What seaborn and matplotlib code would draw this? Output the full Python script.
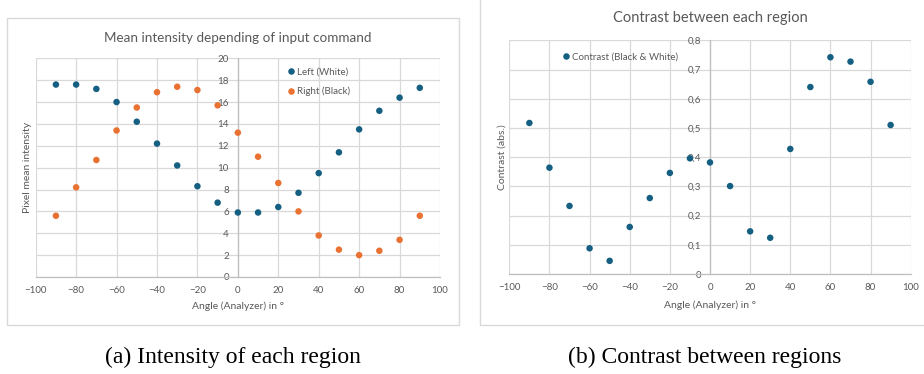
import numpy as np
import pandas as pd
import matplotlib
matplotlib.use("Agg")
import matplotlib.pyplot as plt
import seaborn as sns
from matplotlib.patches import Rectangle
from matplotlib.lines import Line2D
from matplotlib.ticker import FuncFormatter

angles = [-90, -80, -70, -60, -50, -40, -30, -20, -10, 0, 10, 20, 30, 40, 50, 60, 70, 80, 90]
left_white = [17.6, 17.6, 17.2, 16.0, 14.2, 12.2, 10.2, 8.3, 6.8, 5.9, 5.9, 6.4, 7.7, 9.5, 11.4, 13.5, 15.2, 16.4, 17.3]
right_black = [5.6, 8.2, 10.7, 13.4, 15.5, 16.9, 17.4, 17.1, 15.7, 13.2, 11.0, 8.6, 6.0, 3.8, 2.5, 2.0, 2.4, 3.4, 5.6]
contrast = [0.517, 0.364, 0.233, 0.088, 0.045, 0.161, 0.260, 0.346, 0.396, 0.382, 0.301, 0.146, 0.124, 0.428, 0.640, 0.742, 0.727, 0.658, 0.510]

title_a = "Mean intensity depending of input command"
title_b = "Contrast between each region"
caption_a = "(a) Intensity of each region"
caption_b = "(b) Contrast between regions"
xlabel = "Angle (Analyzer) in °"
ylabel_a = "Pixel mean intensity"
ylabel_b = "Contrast (abs.)"
label_white = "Left (White)"
label_black = "Right (Black)"
label_contrast = "Contrast (Black & White)"

BLUE = "#156082"
ORANGE = "#E97132"
TXT = "#595959"
GRID = "#D9D9D9"
AXL = "#BFBFBF"

sns.set_theme(style="white")
plt.rcParams["font.family"] = ["Lato", "DejaVu Sans"]

W, H = 924, 374
fig = plt.figure(figsize=(W / 100, H / 100), dpi=100)


def px_axes(x0, y0, x1, y1):
    return fig.add_axes([x0 / W, 1 - y1 / H, (x1 - x0) / W, (y1 - y0) / H])


def px_rect(x0, y0, x1, y1):
    r = Rectangle((x0 / W, 1 - y1 / H), (x1 - x0) / W, (y1 - y0) / H,
                  transform=fig.transFigure, fill=False, edgecolor=GRID, lw=1.0)
    fig.patches.append(r)


px_rect(7, 18, 459, 325)
px_rect(479.5, -2, 926, 325)


def style(ax, ymax, ystep, fmt):
    ax.set_xlim(-100, 100)
    ax.set_ylim(0, ymax)
    ax.set_xticks(np.arange(-100, 101, 20))
    ax.set_yticks(np.arange(0, ymax + ystep / 2, ystep))
    ax.yaxis.set_major_formatter(FuncFormatter(fmt))
    ax.grid(True, color=GRID, lw=0.9)
    ax.set_axisbelow(True)
    for s in ["top", "right"]:
        ax.spines[s].set_visible(False)
    ax.spines["left"].set_position(("data", 0))
    ax.spines["left"].set_color(AXL)
    ax.spines["bottom"].set_color(AXL)
    ax.spines["left"].set_linewidth(0.9)
    ax.spines["bottom"].set_linewidth(0.9)
    ax.tick_params(axis="both", length=0, labelsize=7, colors=TXT, pad=6.5)
    ax.set_facecolor("none")


# Left chart
ax1 = px_axes(35.7, 58.3, 440, 277)
df1 = pd.DataFrame({"angle": angles * 2,
                    "value": left_white + right_black,
                    "series": [label_white] * len(angles) + [label_black] * len(angles)})
sns.scatterplot(data=df1, x="angle", y="value", hue="series",
                palette={label_white: BLUE, label_black: ORANGE},
                s=22, edgecolor="none", ax=ax1, legend=False, zorder=3)
style(ax1, 20, 2, lambda v, p: f"{v:g}")
ax1.set_xlabel(xlabel, fontsize=7.5, color=TXT)
ax1.set_ylabel(ylabel_a, fontsize=7.5, color=TXT)
ax1.yaxis.set_label_coords(-0.0084, 0.5)
ax1.xaxis.set_label_coords(0.5, -0.111)
ax1.set_title(title_a, fontsize=9.75, color=TXT, pad=12)
h1 = [Line2D([], [], ls="none", marker="o", ms=4.7, color=BLUE, mec="none", label=label_white),
      Line2D([], [], ls="none", marker="o", ms=4.7, color=ORANGE, mec="none", label=label_black)]
ax1.legend(handles=h1, loc="upper left", bbox_to_anchor=(0.615, 0.975), frameon=False,
           fontsize=7, labelcolor=TXT, handlelength=0.6, handletextpad=0.3, labelspacing=1.0,
           borderaxespad=0)

# Right chart
ax2 = px_axes(509.3, 40.3, 910.7, 274)
df2 = pd.DataFrame({"angle": angles, "contrast": contrast})
sns.scatterplot(data=df2, x="angle", y="contrast", color=BLUE, s=22, edgecolor="none",
                ax=ax2, legend=False, zorder=3)
style(ax2, 0.8, 0.1, lambda v, p: ("0" if abs(v) < 1e-9 else f"{v:.1f}".replace(".", ",")))
ax2.set_xlabel(xlabel, fontsize=7.5, color=TXT)
ax2.set_ylabel(ylabel_b, fontsize=7.5, color=TXT)
ax2.yaxis.set_label_coords(-0.006, 0.5)
ax2.xaxis.set_label_coords(0.5, -0.112)
ax2.set_title(title_b, fontsize=10.5, color=TXT, pad=13)
h2 = [Line2D([], [], ls="none", marker="o", ms=4.7, color=BLUE, mec="none", label=label_contrast)]
ax2.legend(handles=h2, loc="upper left", bbox_to_anchor=(0.125, 0.965), frameon=False,
           fontsize=7, labelcolor=TXT, handlelength=0.6, handletextpad=0.3, borderaxespad=0)

# Captions
fig.text(232.5 / W, 1 - 363 / H, caption_a, ha="center", va="baseline",
         fontsize=17, family=["Liberation Serif"], color="black")
fig.text(705 / W, 1 - 363 / H, caption_b, ha="center", va="baseline",
         fontsize=17, family=["Liberation Serif"], color="black")

fig.savefig("out.png", dpi=100, facecolor="white")
